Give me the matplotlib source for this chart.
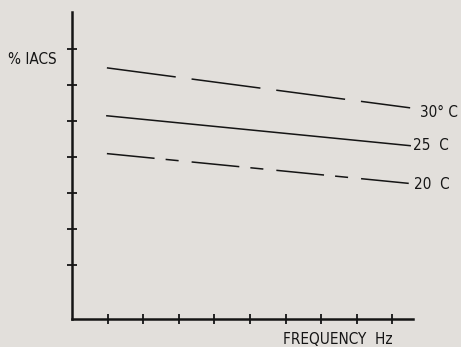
import matplotlib
matplotlib.use("Agg")
import matplotlib.pyplot as plt

# ---- data (arbitrary units) ----
x_ticks = [1, 2, 3, 4, 5, 6, 7, 8, 9]
y_ticks = [1.5, 2.5, 3.5, 4.5, 5.5, 6.5, 7.5]
freq = [0.98, 9.5]
iacs_30 = [6.97, 5.86]
iacs_25 = [5.64, 4.81]
iacs_20 = [4.59, 3.76]
series_labels = ["30° C", "25  C", "20  C"]
x_label = "FREQUENCY  Hz"
y_label = "% IACS"

plt.rcParams['lines.scale_dashes'] = False
plt.rcParams['font.family'] = ['DejaVu Sans']
plt.rcParams['font.stretch'] = 'condensed'

W, H = 461, 347
bg = '#e2dfdb'
ink = '#151515'
fig = plt.figure(figsize=(W / 100, H / 100), dpi=100, facecolor=bg)
x0, x1, y0, y1 = 72, 413, 319, 12
ax = fig.add_axes([x0 / W, 1 - y0 / H, (x1 - x0) / W, (y0 - y1) / H])
ax.set_facecolor(bg)
ax.set_xlim(0, 9.58)
ax.set_ylim(0, 8.52)

for s in ['top', 'right']:
    ax.spines[s].set_visible(False)
for s in ['left', 'bottom']:
    ax.spines[s].set_linewidth(1.8)
    ax.spines[s].set_color(ink)

ax.set_xticks(x_ticks)
ax.set_yticks(y_ticks)
ax.set_xticklabels([])
ax.set_yticklabels([])
ax.tick_params(axis='both', direction='inout', length=7, width=1.3, color=ink)

ax.plot(freq, iacs_30, color=ink, lw=1.1, linestyle=(0, (50, 11.5)), dash_capstyle='butt')
ax.plot(freq, iacs_25, color=ink, lw=1.1, linestyle='-')
ax.plot(freq, iacs_20, color=ink, lw=1.1, linestyle=(0, (34.5, 8, 9.4, 9.4)), dash_capstyle='butt')

fs = 11
kw = dict(fontsize=fs, color=ink, fontstretch='condensed')
ax.annotate(series_labels[0], xy=(freq[-1], iacs_30[-1]), xytext=(7, -3), textcoords='offset points',
            va='center', ha='left', annotation_clip=False, **kw)
ax.annotate(series_labels[1], xy=(freq[-1], iacs_25[-1]), xytext=(2, 0), textcoords='offset points',
            va='center', ha='left', annotation_clip=False, **kw)
ax.annotate(series_labels[2], xy=(freq[-1], iacs_20[-1]), xytext=(3, -1), textcoords='offset points',
            va='center', ha='left', annotation_clip=False, **kw)

fig.text(8 / W, 1 - 60 / H, y_label, ha='left', va='center', **kw)
fig.text(283 / W, 1 - 339 / H, x_label, ha='left', va='center', **kw)

fig.savefig('out.png', dpi=100, facecolor=bg)
